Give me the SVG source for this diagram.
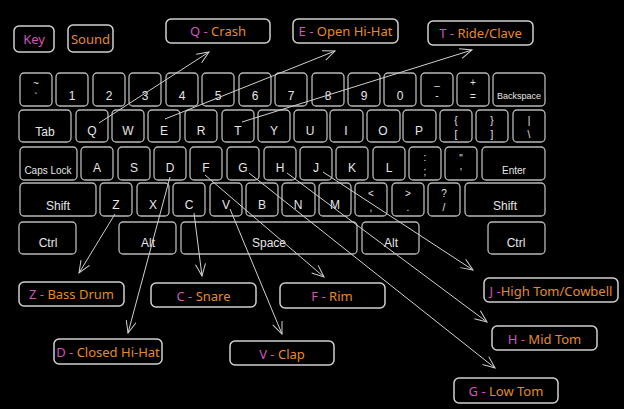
<svg xmlns="http://www.w3.org/2000/svg" width="624" height="409" viewBox="0 0 624 409">
<style>
.k rect{fill:none;stroke:#b8b8b8;stroke-width:1.3}
.k text{fill:#e6e6e6;font-family:"Liberation Sans",Arial,sans-serif;font-size:12px;text-anchor:middle}
.k text.s{font-size:10px}
.k text.xs{font-size:9px}
.k text.y{font-size:10px}
.b rect{fill:#000;stroke:#d0d0d0;stroke-width:1.5}
.b text{font-family:"Noto Sans","Open Sans",sans-serif;font-size:13px;text-anchor:middle}
.p{fill:#d154bb}
.o{fill:#e38b2c}
.c line{stroke:#d0d0d0;stroke-width:1;marker-end:url(#ah)}
</style>
<defs>
<marker id="ah" markerUnits="userSpaceOnUse" markerWidth="16" markerHeight="14" viewBox="-14 -7 16 14" refX="0" refY="0" orient="auto">
<path d="M-12,-5 L0,0 L-12,5" fill="none" stroke="#d0d0d0" stroke-width="1"/>
</marker>
</defs>
<rect width="624" height="409" fill="#000"/>
<g id="keyboard" class="k">
<!-- row 1 -->
<rect x="20" y="73" width="32" height="33" rx="4"/><text class="y" x="36" y="87">~</text><text class="y" x="36" y="101">`</text>
<rect x="56" y="73" width="32" height="33" rx="4"/><text x="72" y="100">1</text>
<rect x="93" y="73" width="32" height="33" rx="4"/><text x="109" y="100">2</text>
<rect x="129" y="73" width="32" height="33" rx="4"/><text x="145" y="100">3</text>
<rect x="166" y="73" width="32" height="33" rx="4"/><text x="182" y="100">4</text>
<rect x="202" y="73" width="32" height="33" rx="4"/><text x="218" y="100">5</text>
<rect x="239" y="73" width="32" height="33" rx="4"/><text x="255" y="100">6</text>
<rect x="275" y="73" width="32" height="33" rx="4"/><text x="291" y="100">7</text>
<rect x="312" y="73" width="32" height="33" rx="4"/><text x="328" y="100">8</text>
<rect x="348" y="73" width="32" height="33" rx="4"/><text x="364" y="100">9</text>
<rect x="384" y="73" width="32" height="33" rx="4"/><text x="400" y="100">0</text>
<rect x="421" y="73" width="32" height="33" rx="4"/><text class="y" x="437" y="85">_</text><text class="y" x="437" y="99">-</text>
<rect x="457" y="73" width="32" height="33" rx="4"/><text class="y" x="473" y="86">+</text><text class="y" x="473" y="100">=</text>
<rect x="493" y="73" width="52" height="33" rx="4"/><text class="xs" x="519" y="99">Backspace</text>
<!-- row 2 -->
<rect x="19" y="110" width="52" height="32" rx="4"/><text x="45" y="136">Tab</text>
<rect x="76" y="110" width="32" height="32" rx="4"/><text x="92" y="135">Q</text>
<rect x="112" y="110" width="32" height="32" rx="4"/><text x="128" y="135">W</text>
<rect x="148" y="110" width="32" height="32" rx="4"/><text x="164" y="135">E</text>
<rect x="185" y="110" width="32" height="32" rx="4"/><text x="201" y="135">R</text>
<rect x="222" y="110" width="32" height="32" rx="4"/><text x="238" y="135">T</text>
<rect x="258" y="110" width="32" height="32" rx="4"/><text x="274" y="135">Y</text>
<rect x="294" y="110" width="33" height="32" rx="4"/><text x="310" y="135">U</text>
<rect x="330" y="110" width="33" height="32" rx="4"/><text x="346" y="135">I</text>
<rect x="367" y="110" width="33" height="32" rx="4"/><text x="383" y="135">O</text>
<rect x="403" y="110" width="33" height="32" rx="4"/><text x="419" y="135">P</text>
<rect x="440" y="110" width="32" height="32" rx="4"/><text class="y" x="456" y="124">{</text><text class="y" x="456" y="138">[</text>
<rect x="476" y="110" width="32" height="32" rx="4"/><text class="y" x="492" y="124">}</text><text class="y" x="492" y="138">]</text>
<rect x="513" y="110" width="32" height="32" rx="4"/><text class="y" x="529" y="124">|</text><text class="y" x="529" y="138">\</text>
<!-- row 3 -->
<rect x="20" y="147" width="57" height="33" rx="4"/><text class="s" x="48" y="174">Caps Lock</text>
<rect x="81" y="147" width="32" height="33" rx="4"/><text x="97" y="172">A</text>
<rect x="118" y="147" width="32" height="33" rx="4"/><text x="134" y="172">S</text>
<rect x="154" y="147" width="32" height="33" rx="4"/><text x="170" y="172">D</text>
<rect x="190" y="147" width="32" height="33" rx="4"/><text x="206" y="172">F</text>
<rect x="227" y="147" width="32" height="33" rx="4"/><text x="243" y="172">G</text>
<rect x="264" y="147" width="32" height="33" rx="4"/><text x="280" y="172">H</text>
<rect x="300" y="147" width="32" height="33" rx="4"/><text x="316" y="172">J</text>
<rect x="336" y="147" width="32" height="33" rx="4"/><text x="352" y="172">K</text>
<rect x="373" y="147" width="32" height="33" rx="4"/><text x="389" y="172">L</text>
<rect x="409" y="147" width="32" height="33" rx="4"/><text class="y" x="425" y="161">:</text><text class="y" x="425" y="175">;</text>
<rect x="445" y="147" width="32" height="33" rx="4"/><text class="y" x="461" y="162">"</text><text class="y" x="461" y="176">'</text>
<rect x="482" y="147" width="63" height="33" rx="4"/><text class="s" x="514" y="174">Enter</text>
<!-- row 4 -->
<rect x="20" y="183" width="76" height="33" rx="4"/><text x="58" y="210">Shift</text>
<rect x="100" y="183" width="32" height="33" rx="4"/><text x="116" y="209">Z</text>
<rect x="137" y="183" width="32" height="33" rx="4"/><text x="153" y="209">X</text>
<rect x="173" y="183" width="32" height="33" rx="4"/><text x="189" y="209">C</text>
<rect x="210" y="183" width="32" height="33" rx="4"/><text x="226" y="209">V</text>
<rect x="246" y="183" width="32" height="33" rx="4"/><text x="262" y="209">B</text>
<rect x="282" y="183" width="33" height="33" rx="4"/><text x="298" y="209">N</text>
<rect x="319" y="183" width="32" height="33" rx="4"/><text x="335" y="209">M</text>
<rect x="355" y="183" width="32" height="33" rx="4"/><text class="y" x="371" y="197">&lt;</text><text class="y" x="371" y="211">,</text>
<rect x="392" y="183" width="32" height="33" rx="4"/><text class="y" x="408" y="197">&gt;</text><text class="y" x="408" y="211">.</text>
<rect x="428" y="183" width="32" height="33" rx="4"/><text class="y" x="444" y="197">?</text><text class="y" x="444" y="211">/</text>
<rect x="465" y="183" width="80" height="33" rx="4"/><text x="505" y="210">Shift</text>
<!-- row 5 -->
<rect x="19" y="222" width="57" height="32" rx="4"/><text x="48" y="247">Ctrl</text>
<rect x="119" y="222" width="57" height="32" rx="4"/><text x="148" y="247">Alt</text>
<rect x="181" y="222" width="176" height="32" rx="4"/><text x="269" y="247">Space</text>
<rect x="362" y="222" width="57" height="32" rx="4"/><text x="391" y="247">Alt</text>
<rect x="488" y="222" width="57" height="32" rx="4"/><text x="516" y="247">Ctrl</text>
</g>
<g id="legend-key" class="b"><rect x="14" y="26" width="40" height="26" rx="5"/><text x="34" y="44" class="p">Key</text></g>
<g id="legend-sound" class="b"><rect x="68" y="25" width="45" height="27" rx="5"/><text x="90.5" y="44" class="o">Sound</text></g>
<g id="q-crash" class="b"><rect x="166" y="19" width="104" height="24" rx="5"/><text x="218" y="36"><tspan class="p">Q - </tspan><tspan class="o">Crash</tspan></text></g>
<g id="e-openhihat" class="b"><rect x="293" y="19" width="105" height="24" rx="5"/><text x="345.5" y="36"><tspan class="p">E - </tspan><tspan class="o">Open Hi-Hat</tspan></text></g>
<g id="t-rideclave" class="b"><rect x="428" y="21" width="105" height="24" rx="5"/><text x="480.5" y="38"><tspan class="p">T -  </tspan><tspan class="o">Ride/Clave</tspan></text></g>
<g id="z-bassdrum" class="b"><rect x="19" y="282" width="105" height="24" rx="5"/><text x="71.5" y="299"><tspan class="p">Z - </tspan><tspan class="o">Bass Drum</tspan></text></g>
<g id="c-snare" class="b"><rect x="151" y="283" width="105" height="24" rx="5"/><text x="203.5" y="301"><tspan class="p">C - </tspan><tspan class="o">Snare</tspan></text></g>
<g id="f-rim" class="b"><rect x="280" y="283" width="105" height="25" rx="5"/><text x="332" y="301"><tspan class="p">F - </tspan><tspan class="o">Rim</tspan></text></g>
<g id="d-closedhihat" class="b"><rect x="54" y="339" width="108" height="25" rx="5"/><text x="108" y="357"><tspan class="p">D - </tspan><tspan class="o">Closed Hi-Hat</tspan></text></g>
<g id="v-clap" class="b"><rect x="230" y="341" width="104" height="24" rx="5"/><text x="282" y="359"><tspan class="p">V - </tspan><tspan class="o">Clap</tspan></text></g>
<g id="j-hightom" class="b"><rect x="484" y="278" width="134" height="24" rx="5"/><text x="551" y="296"><tspan class="p">J -</tspan><tspan class="o">High Tom/Cowbell</tspan></text></g>
<g id="h-midtom" class="b"><rect x="492" y="326" width="105" height="24" rx="5"/><text x="544.5" y="344"><tspan class="p">H - </tspan><tspan class="o">Mid Tom</tspan></text></g>
<g id="g-lowtom" class="b"><rect x="454" y="378" width="104" height="25" rx="5"/><text x="506" y="396"><tspan class="p">G - </tspan><tspan class="o">Low Tom</tspan></text></g>
<g id="connectors" class="c">
<line x1="99" y1="123" x2="209" y2="52"/>
<line x1="165" y1="119" x2="335" y2="51"/>
<line x1="242" y1="122" x2="472" y2="50"/>
<line x1="115" y1="214" x2="79" y2="273"/>
<line x1="170" y1="177" x2="128" y2="333"/>
<line x1="194" y1="213" x2="202" y2="276"/>
<line x1="230" y1="209" x2="282" y2="334"/>
<line x1="205" y1="175" x2="324" y2="277"/>
<line x1="249" y1="173" x2="495" y2="368"/>
<line x1="287" y1="173" x2="487" y2="322"/>
<line x1="323" y1="172" x2="473" y2="270"/>
</g>
</svg>
